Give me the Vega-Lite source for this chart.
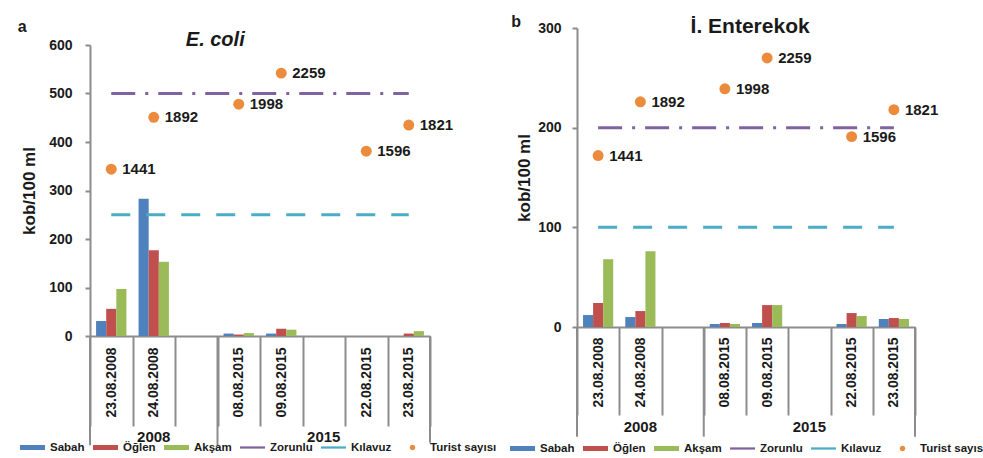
{
  "$schema": "https://vega.github.io/schema/vega-lite/v6.json",
  "width": 825,
  "height": 308,
  "autosize": {"type": "none"},
  "padding": {"left": 90, "top": 28, "right": 68, "bottom": 122},
  "background": "white",
  "config": {
    "font": "Liberation Sans",
    "view": {"stroke": null},
    "axis": {
      "domainColor": "#8c8c8c", "tickColor": "#8c8c8c", "domainWidth": 2, "tickWidth": 2,
      "labelColor": "#1a1a1a", "titleColor": "#1a1a1a", "labelFont": "Liberation Sans", "titleFont": "Liberation Sans",
      "labelFontWeight": "bold", "titleFontWeight": "bold", "grid": false
    },
    "legend": {"labelFont": "Liberation Sans", "labelFontWeight": "bold", "labelFontSize": 11.5, "labelColor": "#1a1a1a", "labelLimit": 300}
  },
  "datasets": {
    "bars_a": [
      {"date": "23.08.2008", "series": "Sabah", "value": 31},
      {"date": "23.08.2008", "series": "Öğlen", "value": 56},
      {"date": "23.08.2008", "series": "Akşam", "value": 97},
      {"date": "24.08.2008", "series": "Sabah", "value": 283},
      {"date": "24.08.2008", "series": "Öğlen", "value": 177},
      {"date": "24.08.2008", "series": "Akşam", "value": 153},
      {"date": "08.08.2015", "series": "Sabah", "value": 5},
      {"date": "08.08.2015", "series": "Öğlen", "value": 3},
      {"date": "08.08.2015", "series": "Akşam", "value": 6},
      {"date": "09.08.2015", "series": "Sabah", "value": 5},
      {"date": "09.08.2015", "series": "Öğlen", "value": 15},
      {"date": "09.08.2015", "series": "Akşam", "value": 13},
      {"date": "22.08.2015", "series": "Sabah", "value": 0},
      {"date": "22.08.2015", "series": "Öğlen", "value": 0},
      {"date": "22.08.2015", "series": "Akşam", "value": 0},
      {"date": "23.08.2015", "series": "Sabah", "value": 0},
      {"date": "23.08.2015", "series": "Öğlen", "value": 5},
      {"date": "23.08.2015", "series": "Akşam", "value": 10}
    ],
    "bars_b": [
      {"date": "23.08.2008", "series": "Sabah", "value": 12},
      {"date": "23.08.2008", "series": "Öğlen", "value": 24},
      {"date": "23.08.2008", "series": "Akşam", "value": 68},
      {"date": "24.08.2008", "series": "Sabah", "value": 10},
      {"date": "24.08.2008", "series": "Öğlen", "value": 16},
      {"date": "24.08.2008", "series": "Akşam", "value": 76},
      {"date": "08.08.2015", "series": "Sabah", "value": 3},
      {"date": "08.08.2015", "series": "Öğlen", "value": 4},
      {"date": "08.08.2015", "series": "Akşam", "value": 3},
      {"date": "09.08.2015", "series": "Sabah", "value": 4},
      {"date": "09.08.2015", "series": "Öğlen", "value": 22},
      {"date": "09.08.2015", "series": "Akşam", "value": 22},
      {"date": "22.08.2015", "series": "Sabah", "value": 3},
      {"date": "22.08.2015", "series": "Öğlen", "value": 14},
      {"date": "22.08.2015", "series": "Akşam", "value": 11},
      {"date": "23.08.2015", "series": "Sabah", "value": 8},
      {"date": "23.08.2015", "series": "Öğlen", "value": 9},
      {"date": "23.08.2015", "series": "Akşam", "value": 8}
    ],
    "limits_a": [
      {"date": "23.08.2008", "series": "Zorunlu", "value": 500},
      {"date": "24.08.2008", "series": "Zorunlu", "value": 500},
      {"date": "b1", "series": "Zorunlu", "value": 500},
      {"date": "08.08.2015", "series": "Zorunlu", "value": 500},
      {"date": "09.08.2015", "series": "Zorunlu", "value": 500},
      {"date": "b2", "series": "Zorunlu", "value": 500},
      {"date": "22.08.2015", "series": "Zorunlu", "value": 500},
      {"date": "23.08.2015", "series": "Zorunlu", "value": 500},
      {"date": "23.08.2008", "series": "Kılavuz", "value": 250},
      {"date": "24.08.2008", "series": "Kılavuz", "value": 250},
      {"date": "b1", "series": "Kılavuz", "value": 250},
      {"date": "08.08.2015", "series": "Kılavuz", "value": 250},
      {"date": "09.08.2015", "series": "Kılavuz", "value": 250},
      {"date": "b2", "series": "Kılavuz", "value": 250},
      {"date": "22.08.2015", "series": "Kılavuz", "value": 250},
      {"date": "23.08.2015", "series": "Kılavuz", "value": 250}
    ],
    "limits_b": [
      {"date": "23.08.2008", "series": "Zorunlu", "value": 200},
      {"date": "24.08.2008", "series": "Zorunlu", "value": 200},
      {"date": "b1", "series": "Zorunlu", "value": 200},
      {"date": "08.08.2015", "series": "Zorunlu", "value": 200},
      {"date": "09.08.2015", "series": "Zorunlu", "value": 200},
      {"date": "b2", "series": "Zorunlu", "value": 200},
      {"date": "22.08.2015", "series": "Zorunlu", "value": 200},
      {"date": "23.08.2015", "series": "Zorunlu", "value": 200},
      {"date": "23.08.2008", "series": "Kılavuz", "value": 100},
      {"date": "24.08.2008", "series": "Kılavuz", "value": 100},
      {"date": "b1", "series": "Kılavuz", "value": 100},
      {"date": "08.08.2015", "series": "Kılavuz", "value": 100},
      {"date": "09.08.2015", "series": "Kılavuz", "value": 100},
      {"date": "b2", "series": "Kılavuz", "value": 100},
      {"date": "22.08.2015", "series": "Kılavuz", "value": 100},
      {"date": "23.08.2015", "series": "Kılavuz", "value": 100}
    ],
    "tourists_a": [
      {"date": "23.08.2008", "series": "Turist sayısı", "turist": 1441, "value": 344},
      {"date": "24.08.2008", "series": "Turist sayısı", "turist": 1892, "value": 451},
      {"date": "08.08.2015", "series": "Turist sayısı", "turist": 1998, "value": 478},
      {"date": "09.08.2015", "series": "Turist sayısı", "turist": 2259, "value": 542},
      {"date": "22.08.2015", "series": "Turist sayısı", "turist": 1596, "value": 381},
      {"date": "23.08.2015", "series": "Turist sayısı", "turist": 1821, "value": 435}
    ],
    "tourists_b": [
      {"date": "23.08.2008", "series": "Turist sayısı", "turist": 1441, "value": 172},
      {"date": "24.08.2008", "series": "Turist sayısı", "turist": 1892, "value": 226},
      {"date": "08.08.2015", "series": "Turist sayısı", "turist": 1998, "value": 239},
      {"date": "09.08.2015", "series": "Turist sayısı", "turist": 2259, "value": 270},
      {"date": "22.08.2015", "series": "Turist sayısı", "turist": 1596, "value": 191},
      {"date": "23.08.2015", "series": "Turist sayısı", "turist": 1821, "value": 218}
    ],
    "years": [
      {"date": "24.08.2008", "value": 0, "year": "2008"},
      {"date": "b2", "value": 0, "year": "2015"}
    ],
    "seps_a": [
      {"date": "23.08.2008", "value": 0, "bottom": -225},
      {"date": "08.08.2015", "value": 0, "bottom": -225}
    ],
    "seps_b": [
      {"date": "23.08.2008", "value": 0, "bottom": -110},
      {"date": "08.08.2015", "value": 0, "bottom": -110}
    ],
    "end_a": [{"date": "23.08.2015", "value": 0, "bottom": -220}],
    "end_b": [{"date": "23.08.2015", "value": 0, "bottom": -110}],
    "title_a": [{"date": "b1", "value": 600, "text": "E. coli"}],
    "letter_a": [{"date": "23.08.2008", "value": 600, "text": "a"}],
    "title_b": [{"date": "09.08.2015", "value": 300, "text": "İ. Enterekok"}],
    "letter_b": [{"date": "23.08.2008", "value": 300, "text": "b"}]
  },
  "resolve": {
    "scale": {"x": "independent", "y": "independent", "color": "independent", "xOffset": "independent"},
    "axis": {"x": "independent", "y": "independent"},
    "legend": {"color": "independent"}
  },
  "layer": [
    {
      "encoding": {
        "x": {
          "field": "date", "type": "nominal", "sort": null,
          "scale": {"domain": ["23.08.2008", "24.08.2008", "b1", "08.08.2015", "09.08.2015", "b2", "22.08.2015", "23.08.2015"], "range": [0, 340], "paddingInner": 0, "paddingOuter": 0},
          "axis": {"orient": "bottom", "title": null, "labelAngle": 270, "labelAlign": "right", "labelBaseline": "middle", "labelFontSize": 14, "tickBand": "extent", "tickSize": 90, "labelPadding": -79, "labelExpr": "datum.value === 'b1' || datum.value === 'b2' ? '' : datum.label"}
        },
        "y": {
          "field": "value", "type": "quantitative",
          "scale": {"domain": [0, 600], "range": [308, 17], "nice": false},
          "axis": {"orient": "left", "values": [0, 100, 200, 300, 400, 500, 600], "title": "kob/100 ml", "titleFontSize": 17, "titlePadding": 10, "labelFontSize": 14, "tickSize": 5, "labelPadding": 13}
        }
      },
      "layer": [
        {
          "data": {"name": "bars_a"},
          "mark": {"type": "bar"},
          "encoding": {
            "xOffset": {"field": "series", "type": "nominal", "sort": null, "scale": {"domain": ["Sabah", "Öğlen", "Akşam"], "paddingInner": 0, "paddingOuter": 0.6}},
            "color": {
              "field": "series", "type": "nominal",
              "scale": {"domain": ["Sabah", "Öğlen", "Akşam", "Zorunlu", "Kılavuz", "Turist sayısı"], "range": ["#4f81bd", "#c0504d", "#9bbb59", "#7f63a1", "#4bacc6", "#ed8b3d"]},
              "legend": {
                "orient": "none", "legendX": -70, "legendY": 407, "direction": "horizontal", "title": null,
                "symbolSize": 625, "labelOffset": 5, "columnPadding": 8, "padding": 0,
                "encode": {"symbols": {"update": {
                  "shape": {"signal": "datum.value === 'Turist sayısı' ? 'M0.22,0A0.22,0.22,0,1,1,-0.22,0A0.22,0.22,0,1,1,0.22,0Z' : (datum.value === 'Zorunlu' || datum.value === 'Kılavuz') ? 'M-1,-0.09H1V0.09H-1Z' : 'M-1,-0.2H1V0.2H-1Z'"},
                  "fill": {"signal": "datum.value === 'Sabah' ? '#4f81bd' : datum.value === 'Öğlen' ? '#c0504d' : datum.value === 'Akşam' ? '#9bbb59' : datum.value === 'Zorunlu' ? '#7f63a1' : datum.value === 'Kılavuz' ? '#4bacc6' : '#ed8b3d'"},
                  "stroke": {"value": "transparent"}, "strokeWidth": {"value": 0}, "opacity": {"value": 1}, "fillOpacity": {"value": 1}, "size": {"value": 625}
                }}}
              }
            }
          }
        },
        {
          "data": {"name": "limits_a"},
          "transform": [{"filter": "datum.series === 'Zorunlu'"}],
          "mark": {"type": "line", "strokeWidth": 3, "strokeDash": [24, 10, 3, 10]},
          "encoding": {"color": {"field": "series", "type": "nominal"}}
        },
        {
          "data": {"name": "limits_a"},
          "transform": [{"filter": "datum.series === 'Kılavuz'"}],
          "mark": {"type": "line", "strokeWidth": 3, "strokeDash": [19, 16]},
          "encoding": {"color": {"field": "series", "type": "nominal"}}
        },
        {
          "data": {"name": "tourists_a"},
          "mark": {"type": "circle", "size": 120, "opacity": 1},
          "encoding": {"color": {"field": "series", "type": "nominal"}}
        },
        {
          "data": {"name": "tourists_a"},
          "mark": {"type": "text", "align": "left", "baseline": "middle", "dx": 11, "fontSize": 15, "fontWeight": "bold", "color": "#1a1a1a"},
          "encoding": {"text": {"field": "turist", "type": "nominal"}}
        },
        {
          "data": {"name": "seps_a"},
          "mark": {"type": "rule", "color": "#8c8c8c", "strokeWidth": 2},
          "encoding": {
            "x": {"field": "date", "type": "nominal", "bandPosition": 0},
            "y2": {"field": "bottom"}
          }
        },
        {
          "data": {"name": "end_a"},
          "mark": {"type": "rule", "color": "#8c8c8c", "strokeWidth": 2},
          "encoding": {
            "x": {"field": "date", "type": "nominal", "bandPosition": 1},
            "y2": {"field": "bottom"}
          }
        },
        {
          "data": {"name": "years"},
          "mark": {"type": "text", "baseline": "middle", "align": "center", "dy": 101, "fontSize": 15, "fontWeight": "bold", "color": "#1a1a1a"},
          "encoding": {"text": {"field": "year", "type": "nominal"}}
        },
        {
          "data": {"name": "title_a"},
          "mark": {"type": "text", "baseline": "middle", "align": "center", "dx": 19, "dy": -5, "fontSize": 20, "fontWeight": "bold", "fontStyle": "italic", "color": "#1a1a1a"},
          "encoding": {"text": {"field": "text", "type": "nominal"}}
        },
        {
          "data": {"name": "letter_a"},
          "mark": {"type": "text", "baseline": "middle", "align": "center", "dx": -89, "dy": -18, "fontSize": 16, "fontWeight": "bold", "color": "#1a1a1a"},
          "encoding": {"text": {"field": "text", "type": "nominal"}}
        }
      ]
    },
    {
      "encoding": {
        "x": {
          "field": "date", "type": "nominal", "sort": null,
          "scale": {"domain": ["23.08.2008", "24.08.2008", "b1", "08.08.2015", "09.08.2015", "b2", "22.08.2015", "23.08.2015"], "range": [487, 825], "paddingInner": 0, "paddingOuter": 0},
          "axis": {"orient": "bottom", "offset": -9, "title": null, "labelAngle": 270, "labelAlign": "right", "labelBaseline": "middle", "labelFontSize": 14, "tickBand": "extent", "tickSize": 88, "labelPadding": -78, "labelExpr": "datum.value === 'b1' || datum.value === 'b2' ? '' : datum.label"}
        },
        "y": {
          "field": "value", "type": "quantitative",
          "scale": {"domain": [0, 300], "range": [299, 0], "nice": false},
          "axis": {"orient": "left", "offset": -487, "values": [0, 100, 200, 300], "title": "kob/100 ml", "titleFontSize": 17, "titlePadding": 4, "labelFontSize": 14, "tickSize": 5, "labelPadding": 11}
        }
      },
      "layer": [
        {
          "data": {"name": "bars_b"},
          "mark": {"type": "bar"},
          "encoding": {
            "xOffset": {"field": "series", "type": "nominal", "sort": null, "scale": {"domain": ["Sabah", "Öğlen", "Akşam"], "paddingInner": 0, "paddingOuter": 0.6}},
            "color": {
              "field": "series", "type": "nominal",
              "scale": {"domain": ["Sabah", "Öğlen", "Akşam", "Zorunlu", "Kılavuz", "Turist sayısı"], "range": ["#4f81bd", "#c0504d", "#9bbb59", "#7f63a1", "#4bacc6", "#ed8b3d"]},
              "legend": {
                "orient": "none", "legendX": 420, "legendY": 408, "direction": "horizontal", "title": null,
                "symbolSize": 625, "labelOffset": 5, "columnPadding": 8, "padding": 0,
                "encode": {"symbols": {"update": {
                  "shape": {"signal": "datum.value === 'Turist sayısı' ? 'M0.22,0A0.22,0.22,0,1,1,-0.22,0A0.22,0.22,0,1,1,0.22,0Z' : (datum.value === 'Zorunlu' || datum.value === 'Kılavuz') ? 'M-1,-0.09H1V0.09H-1Z' : 'M-1,-0.2H1V0.2H-1Z'"},
                  "fill": {"signal": "datum.value === 'Sabah' ? '#4f81bd' : datum.value === 'Öğlen' ? '#c0504d' : datum.value === 'Akşam' ? '#9bbb59' : datum.value === 'Zorunlu' ? '#7f63a1' : datum.value === 'Kılavuz' ? '#4bacc6' : '#ed8b3d'"},
                  "stroke": {"value": "transparent"}, "strokeWidth": {"value": 0}, "opacity": {"value": 1}, "fillOpacity": {"value": 1}, "size": {"value": 625}
                }}}
              }
            }
          }
        },
        {
          "data": {"name": "limits_b"},
          "transform": [{"filter": "datum.series === 'Zorunlu'"}],
          "mark": {"type": "line", "strokeWidth": 3, "strokeDash": [24, 10, 3, 10]},
          "encoding": {"color": {"field": "series", "type": "nominal"}}
        },
        {
          "data": {"name": "limits_b"},
          "transform": [{"filter": "datum.series === 'Kılavuz'"}],
          "mark": {"type": "line", "strokeWidth": 3, "strokeDash": [19, 16]},
          "encoding": {"color": {"field": "series", "type": "nominal"}}
        },
        {
          "data": {"name": "tourists_b"},
          "mark": {"type": "circle", "size": 120, "opacity": 1},
          "encoding": {"color": {"field": "series", "type": "nominal"}}
        },
        {
          "data": {"name": "tourists_b"},
          "mark": {"type": "text", "align": "left", "baseline": "middle", "dx": 11, "fontSize": 15, "fontWeight": "bold", "color": "#1a1a1a"},
          "encoding": {"text": {"field": "turist", "type": "nominal"}}
        },
        {
          "data": {"name": "seps_b"},
          "mark": {"type": "rule", "color": "#8c8c8c", "strokeWidth": 2},
          "encoding": {
            "x": {"field": "date", "type": "nominal", "bandPosition": 0},
            "y2": {"field": "bottom"}
          }
        },
        {
          "data": {"name": "end_b"},
          "mark": {"type": "rule", "color": "#8c8c8c", "strokeWidth": 2},
          "encoding": {
            "x": {"field": "date", "type": "nominal", "bandPosition": 1},
            "y2": {"field": "bottom"}
          }
        },
        {
          "data": {"name": "years"},
          "mark": {"type": "text", "baseline": "middle", "align": "center", "dy": 100, "fontSize": 15, "fontWeight": "bold", "color": "#1a1a1a"},
          "encoding": {"text": {"field": "year", "type": "nominal"}}
        },
        {
          "data": {"name": "title_b"},
          "mark": {"type": "text", "baseline": "middle", "align": "center", "dx": -17, "dy": -1, "fontSize": 21, "fontWeight": "bold", "color": "#1a1a1a"},
          "encoding": {"text": {"field": "text", "type": "nominal"}}
        },
        {
          "data": {"name": "letter_b"},
          "mark": {"type": "text", "baseline": "middle", "align": "center", "dx": -82, "dy": -6, "fontSize": 16, "fontWeight": "bold", "color": "#1a1a1a"},
          "encoding": {"text": {"field": "text", "type": "nominal"}}
        }
      ]
    }
  ]
}
